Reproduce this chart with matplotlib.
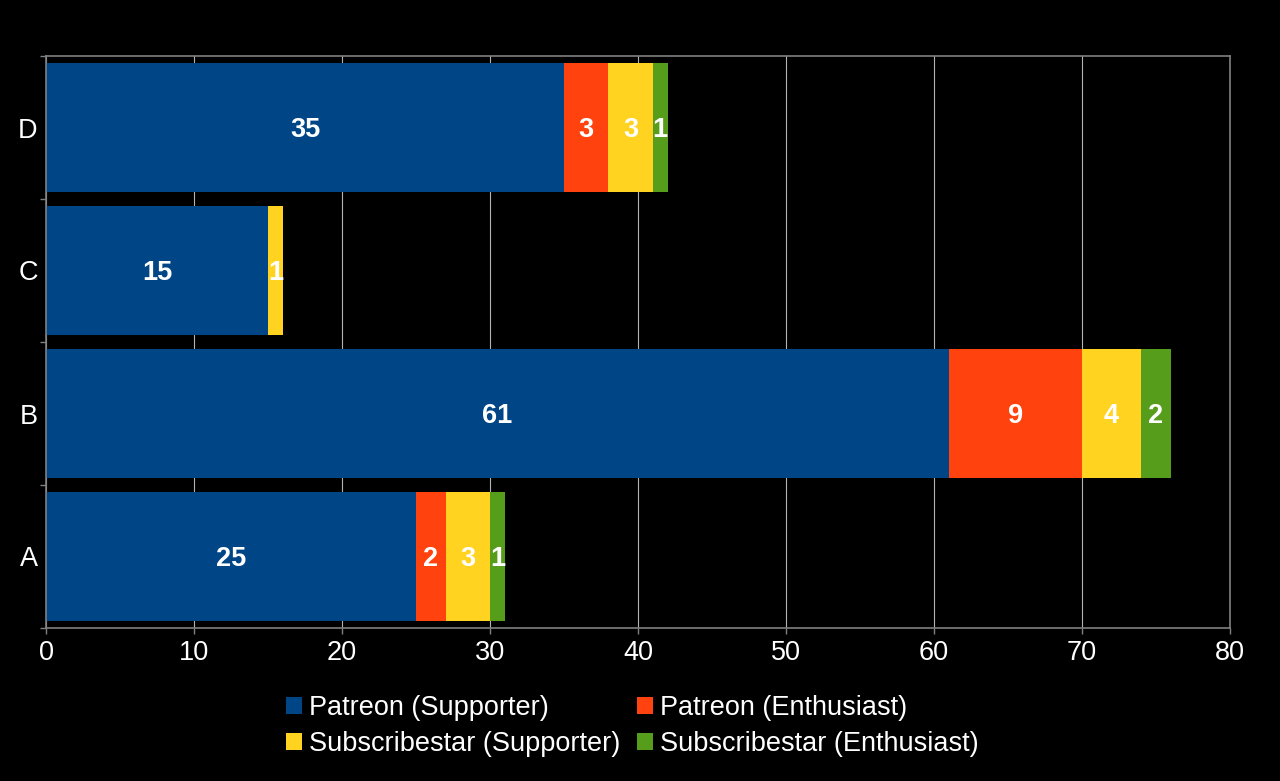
import matplotlib
matplotlib.use("Agg")
import matplotlib.pyplot as plt
import numpy as np

plt.rcParams['font.family'] = ['Liberation Sans', 'DejaVu Sans']

categories = ['A', 'B', 'C', 'D']
series_names = ['Patreon (Supporter)', 'Patreon (Enthusiast)',
                'Subscribestar (Supporter)', 'Subscribestar (Enthusiast)']
patreon_supporter = [25, 61, 15, 35]
patreon_enthusiast = [2, 9, 0, 3]
subscribestar_supporter = [3, 4, 1, 3]
subscribestar_enthusiast = [1, 2, 0, 1]
colors = ['#004586', '#ff420e', '#ffd320', '#579d1c']

series = [patreon_supporter, patreon_enthusiast,
          subscribestar_supporter, subscribestar_enthusiast]

fig = plt.figure(figsize=(12.8, 7.81), dpi=100, facecolor='black')
ax = fig.add_axes([46 / 1280, 1 - 628 / 781, (1230 - 46) / 1280, (628 - 56) / 781])
ax.set_facecolor('black')

y = np.arange(len(categories))
left = np.zeros(len(categories))
handles = []
for name, vals, col in zip(series_names, series, colors):
    vals = np.array(vals, dtype=float)
    bars = ax.barh(y, vals, left=left, height=0.9, color=col, label=name, zorder=2)
    handles.append(bars)
    for b, v in zip(bars, vals):
        if v > 0:
            ax.text(b.get_x() + b.get_width() / 2, b.get_y() + b.get_height() / 2 - 0.015,
                    f'{int(v)}', ha='center', va='center', color='white',
                    fontsize=19.5, fontweight='bold', zorder=3)
    left += vals

ax.set_xlim(0, 80)
ax.set_ylim(-0.5, 3.5)
ax.set_xticks(np.arange(0, 81, 10))
ax.set_yticks(y)
ax.set_yticklabels(categories)
ax.set_yticks(np.arange(-0.5, 4, 1), minor=True)

ax.grid(True, axis='x', color='#b3b3b3', linewidth=0.8, zorder=0)
ax.set_axisbelow(True)
for s in ax.spines.values():
    s.set_color('#808080')
    s.set_linewidth(1.2)

ax.tick_params(axis='x', colors='#808080', labelcolor='white', labelsize=19.5,
               length=4, width=1.0, pad=5)
ax.tick_params(axis='y', which='major', length=0, labelcolor='white',
               labelsize=19.5, pad=6)
ax.tick_params(axis='y', which='minor', length=4, width=1.0, colors='#808080')

# legend fills row by row: reorder for matplotlib's column-wise fill
order = [0, 2, 1, 3]
leg = fig.legend([handles[i] for i in order], [series_names[i] for i in order],
                 loc='upper center', bbox_to_anchor=(0.494, 0.127), ncol=2,
                 frameon=False, fontsize=19.5, handlelength=0.6, handleheight=0.6,
                 handletextpad=0.25, columnspacing=0.6, labelspacing=0.35,
                 borderpad=0)
for t in leg.get_texts():
    t.set_color('white')

fig.savefig('out.png', dpi=100, facecolor='black')
